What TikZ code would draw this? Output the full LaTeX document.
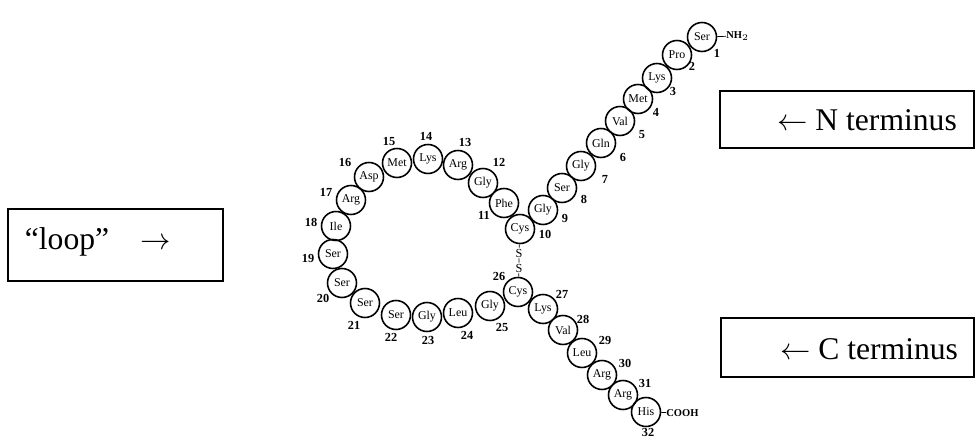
\documentclass[tikz,border=0pt]{standalone}
\usepackage{fontspec}
\setmainfont{Liberation Serif}
\usetikzlibrary{positioning}

\tikzset{
  res/.style={draw, circle, line width=0.9pt, minimum size=0.58cm, inner sep=0pt,
    font=\fontsize{6.8}{7}\selectfont},
  num/.style={inner sep=0pt, font=\bfseries\fontsize{7}{8}\selectfont},
  sulf/.style={inner sep=0.5pt, font=\fontsize{7}{8}\selectfont},
  endgrp/.style={inner sep=0pt, anchor=west, font=\bfseries\fontsize{6}{7}\selectfont},
  tagbox/.style={draw, line width=1pt, inner sep=0pt},
  tagtext/.style={inner sep=0pt, font=\fontsize{18}{22}\selectfont},
}

\begin{document}
\begin{tikzpicture}[x=0.02cm, y=-0.02cm]
\useasboundingbox (0,0) rectangle (976,438);

% Residues, numbered from the N terminus
\foreach \i/\aa/\x/\y/\nx/\ny in {
  1/Ser/702/37/717/53, 2/Pro/677/55/692/66, 3/Lys/657/78/673/91,
  4/Met/638/99/656/112, 5/Val/620/121/642/135, 6/Gln/601/143/623/157,
  7/Gly/581/166/605/179, 8/Ser/562/188/584/199, 9/Gly/543/210/565/218,
  10/Cys/520/229/545/234, 11/Phe/504/203/484/215, 12/Gly/483/183/499/162,
  13/Arg/458/165/465/142, 14/Lys/428/159/426/136, 15/Met/397/163/389/142,
  16/Asp/369/177/345/162, 17/Arg/351/200/326/192, 18/Ile/336/226/311/222,
  19/Ser/333/254/308/258, 20/Ser/342/283/323/298, 21/Ser/365/303/354/325,
  22/Ser/396/315/391/337, 23/Gly/427/317/428/340, 24/Leu/458/313/467/335,
  25/Gly/490/306/502/327, 26/Cys/518/292/499/276, 27/Lys/543/309/562/294,
  28/Val/563/330/583/319, 29/Leu/582/353/605/340, 30/Arg/602/375/625/363,
  31/Arg/623/395/645/383, 32/His/646/412/648/432.5}{
  \node[res] (r\i) at (\x,\y) {\aa};
  \node[num] (n\i) at (\nx,\ny) {\i};
}

% Disulfide bridge
\node[sulf] (s1) at (519,253) {S};
\node[sulf] (s2) at (519,268) {S};
\draw (r10) -- (s1) -- (s2) -- (r26);

% Ends
\node[endgrp] (nh) at (726,36) {NH$_2$};
\draw (r1) -- (nh);
\node[endgrp] (cooh) at (666,413) {COOH};
\draw (r32) -- (cooh);

% Boxes
\node[tagbox, minimum width=4.3cm, minimum height=1.44cm] (lbox) at (115.5,245) {};
\node[tagtext] (ltext) at (98,242) {“loop”\quad$\rightarrow$};
\node[tagbox, minimum width=5.08cm, minimum height=1.14cm] (nbox) at (847,119.5) {};
\node[tagtext] (ntext) at (867,120) {$\leftarrow$ N terminus};
\node[tagbox, minimum width=5.06cm, minimum height=1.18cm] (cbox) at (847.5,347.5) {};
\node[tagtext] (ctext) at (869,349) {$\leftarrow$ C terminus};
\end{tikzpicture}
\end{document}
